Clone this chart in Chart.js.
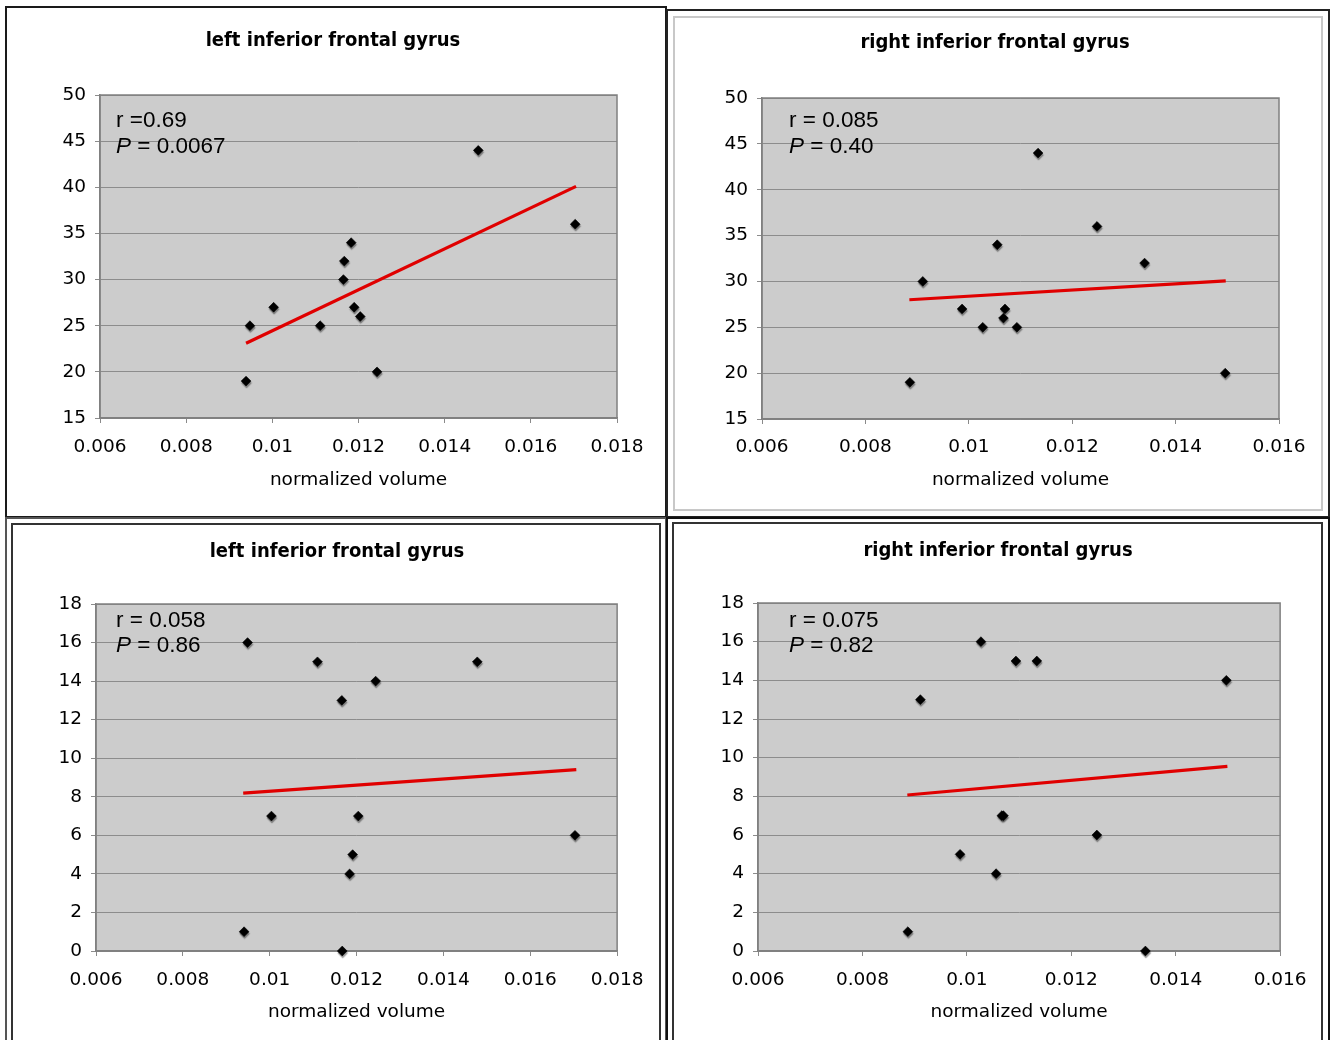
<!DOCTYPE html>
<html>
<head>
<meta charset="utf-8">
<script src="https://cdn.jsdelivr.net/npm/chart.js@4.4.0/dist/chart.umd.min.js"></script>
<style>
  html, body { margin: 0; padding: 0; background: #fff; }
  body { width: 1332px; height: 1040px; overflow: hidden; position: relative; }
  .box { position: absolute; box-sizing: border-box; }
  canvas { position: absolute; }
</style>
</head>
<body>
<div class="box" style="left:5px;top:6px;width:662px;height:512px;border:2px solid #1a1a1a"></div>
<div class="box" style="left:666px;top:9px;width:664px;height:509px;border:2px solid #222"></div>
<div class="box" style="left:673px;top:16px;width:650px;height:495px;border:2px solid #c8c8c8"></div>
<div class="box" style="left:5px;top:517px;width:662px;height:540px;border:2px solid #555"></div>
<div class="box" style="left:11px;top:523px;width:650px;height:530px;border:2px solid #333"></div>
<div class="box" style="left:666px;top:517px;width:664px;height:540px;border:2px solid #111"></div>
<div class="box" style="left:672px;top:522px;width:651px;height:530px;border:2px solid #333"></div>
<canvas id="c1"></canvas>
<canvas id="c2"></canvas>
<canvas id="c3"></canvas>
<canvas id="c4"></canvas>
<script>
// ---------------- DATA ----------------
const titleLeft = 'left inferior frontal gyrus';
const titleRight = 'right inferior frontal gyrus';
const xAxisTitle = 'normalized volume';

const xTicksLeft = ['0.006', '0.008', '0.01', '0.012', '0.014', '0.016', '0.018'];
const xTicksRight = ['0.006', '0.008', '0.01', '0.012', '0.014', '0.016'];
const yTicksTop = ['15', '20', '25', '30', '35', '40', '45', '50'];
const yTicksBottom = ['0', '2', '4', '6', '8', '10', '12', '14', '16', '18'];

// top-left: left IFG
const leftTopX = [0.01478, 0.01703, 0.01183, 0.01167, 0.01165, 0.01003, 0.00948, 0.01111, 0.01190, 0.01204, 0.01243, 0.00939];
const leftTopY = [44, 36, 34, 32, 30, 27, 25, 25, 27, 26, 20, 19];
const leftTopTrendX = [0.00939, 0.01705];
const leftTopTrendY = [23.1, 40.1];
const leftTopR = 'r =0.69';
const leftTopP = '0.0067';

// top-right: right IFG
const rightTopX = [0.01134, 0.01248, 0.01055, 0.01340, 0.00911, 0.00987, 0.01070, 0.01067, 0.01027, 0.01093, 0.00886, 0.01496];
const rightTopY = [44, 36, 34, 32, 30, 27, 27, 26, 25, 25, 19, 20];
const rightTopTrendX = [0.00885, 0.01497];
const rightTopTrendY = [28.0, 30.05];
const rightTopR = 'r = 0.085';
const rightTopP = '0.40';

// bottom-left: left IFG
const leftBotX = [0.00949, 0.01110, 0.01478, 0.01244, 0.01166, 0.01004, 0.01204, 0.01703, 0.01191, 0.01184, 0.00941, 0.01167];
const leftBotY = [16, 15, 15, 14, 13, 7, 7, 6, 5, 4, 1, 0];
const leftBotTrendX = [0.00939, 0.01706];
const leftBotTrendY = [8.19, 9.41];
const leftBotR = 'r = 0.058';
const leftBotP = '0.86';

// bottom-right: right IFG
const rightBotX = [0.01027, 0.01094, 0.01134, 0.01497, 0.00911, 0.01070, 0.01067, 0.01249, 0.00987, 0.01056, 0.00887, 0.01342];
const rightBotY = [16, 15, 15, 14, 13, 7, 7, 6, 5, 4, 1, 0];
const rightBotTrendX = [0.00886, 0.01499];
const rightBotTrendY = [8.07, 9.55];
const rightBotR = 'r = 0.075';
const rightBotP = '0.82';

// ---------------- LAYOUT / STYLE ----------------
const TICK_FONT = 'DejaVu Sans';
const TICK_SIZE = 18.5;
const TITLE_FONT = '"DejaVu Sans Condensed", "DejaVu Sans", sans-serif';
const TITLE_SIZE = 20;
const NOTE_FONT = '"Liberation Sans", Arial, sans-serif';
const NOTE_SIZE = 22.5;

const geoms = [
  { id: 'c1', canvas: [8, 9, 656, 506],   plot: [100, 95, 617, 418], titleC: [333, 41],  labelY: 447.5, axisTitleY: 480,  note: [16, 32, 58] },
  { id: 'c2', canvas: [676, 18, 644, 490], plot: [762, 98, 1279, 419], titleC: [995, 43], labelY: 447.5, axisTitleY: 480,  note: [27, 29, 55] },
  { id: 'c3', canvas: [14, 527, 643, 513], plot: [96, 604, 620, 951], titleC: [337, 552], labelY: 980.5, axisTitleY: 1012, note: [20, 23, 48] },
  { id: 'c4', canvas: [675, 526, 645, 514], plot: [758, 603, 1281, 951], titleC: [998, 551], labelY: 980.5, axisTitleY: 1012, note: [31, 24, 49] }
];

const panels = [
  { title: titleLeft,  xs: leftTopX,  ys: leftTopY,  tx: leftTopTrendX,  ty: leftTopTrendY,  r: leftTopR,  p: leftTopP,  xTicks: xTicksLeft,  yTicks: yTicksTop },
  { title: titleRight, xs: rightTopX, ys: rightTopY, tx: rightTopTrendX, ty: rightTopTrendY, r: rightTopR, p: rightTopP, xTicks: xTicksRight, yTicks: yTicksTop },
  { title: titleLeft,  xs: leftBotX,  ys: leftBotY,  tx: leftBotTrendX,  ty: leftBotTrendY,  r: leftBotR,  p: leftBotP,  xTicks: xTicksLeft,  yTicks: yTicksBottom },
  { title: titleRight, xs: rightBotX, ys: rightBotY, tx: rightBotTrendX, ty: rightBotTrendY, r: rightBotR, p: rightBotP, xTicks: xTicksRight, yTicks: yTicksBottom }
];

const plotBg = {
  id: 'plotBg',
  beforeDraw(chart) {
    const a = chart.chartArea, ctx = chart.ctx;
    ctx.save();
    ctx.fillStyle = '#cccccc';
    ctx.fillRect(a.left, a.top, a.right - a.left, a.bottom - a.top);
    ctx.restore();
  },
  beforeDatasetsDraw(chart) {
    const a = chart.chartArea, ctx = chart.ctx;
    ctx.save();
    ctx.strokeStyle = '#808080';
    ctx.lineWidth = 1.5;
    ctx.strokeRect(a.left, a.top, a.right - a.left, a.bottom - a.top);
    ctx.restore();
  },
  beforeDatasetDraw(chart, args) {
    if (args.index === 0) {
      const ctx = chart.ctx;
      ctx.shadowColor = 'rgba(0,0,0,0.4)';
      ctx.shadowOffsetX = 0.5;
      ctx.shadowOffsetY = 2;
      ctx.shadowBlur = 1.2;
    }
  },
  afterDatasetDraw(chart, args) {
    const ctx = chart.ctx;
    ctx.shadowColor = 'rgba(0,0,0,0)';
    ctx.shadowOffsetX = 0;
    ctx.shadowOffsetY = 0;
    ctx.shadowBlur = 0;
  },
  afterDraw(chart, args, opts) {
    const a = chart.chartArea, ctx = chart.ctx;
    const x0 = a.left + opts.dx;
    ctx.save();
    ctx.fillStyle = '#000';
    ctx.textBaseline = 'alphabetic';
    ctx.textAlign = 'left';
    ctx.font = NOTE_SIZE + 'px ' + NOTE_FONT;
    ctx.fillText(opts.r, x0, a.top + opts.y1);
    ctx.font = 'italic ' + NOTE_SIZE + 'px ' + NOTE_FONT;
    ctx.fillText('P', x0, a.top + opts.y2);
    const w = ctx.measureText('P').width;
    ctx.font = NOTE_SIZE + 'px ' + NOTE_FONT;
    ctx.fillText(' = ' + opts.p, x0 + w, a.top + opts.y2);
    ctx.restore();
  }
};

panels.forEach((pn, i) => {
  const g = geoms[i];
  const [cx, cy, cw, ch] = g.canvas;
  const [l, t, r, b] = g.plot;
  const R0 = cx + cw - r, L0 = l - cx, T0 = t - cy, B0 = cy + ch - b;
  const padL = 2 * (g.titleC[0] - cx) - cw + R0;
  const yW = L0 - padL;
  const tLH = TITLE_SIZE * 1.2;
  const tPadTop = g.titleC[1] - cy - tLH / 2;
  const tPadBot = T0 - tPadTop - tLH;
  const kLH = TICK_SIZE * 1.2;
  const xTickPad = g.labelY - b - 5 - kLH / 2;
  const axTitlePadBot = cy + ch - g.axisTitleY - kLH / 2;

  const cv = document.getElementById(g.id);
  cv.width = cw; cv.height = ch;
  cv.style.left = cx + 'px'; cv.style.top = cy + 'px';
  cv.style.width = cw + 'px'; cv.style.height = ch + 'px';

  const pts = pn.xs.map((x, k) => ({ x: x, y: pn.ys[k] }));
  const trend = pn.tx.map((x, k) => ({ x: x, y: pn.ty[k] }));
  const xVals = pn.xTicks.map(Number);
  const yVals = pn.yTicks.map(Number);
  const tickFont = { family: TICK_FONT, size: TICK_SIZE, lineHeight: 1.2 };

  new Chart(cv, {
    type: 'scatter',
    data: {
      datasets: [
        { data: pts, backgroundColor: '#000', borderColor: '#000', borderWidth: 0.6,
          pointStyle: 'rectRot', pointRadius: 4.9, pointHoverRadius: 4.9, clip: false },
        { type: 'line', data: trend, showLine: true, borderColor: '#e00000', borderWidth: 3.2,
          pointRadius: 0, fill: false, clip: false }
      ]
    },
    options: {
      responsive: false,
      animation: false,
      devicePixelRatio: 1,
      events: [],
      layout: { padding: { left: padL, right: R0, top: 0, bottom: 0 } },
      plugins: {
        legend: { display: false },
        tooltip: { enabled: false },
        title: {
          display: true, text: pn.title, color: '#000',
          font: { family: TITLE_FONT, size: TITLE_SIZE, weight: 'bold', lineHeight: 1.2 },
          padding: { top: tPadTop, bottom: tPadBot }
        },
        plotBg: { r: pn.r, p: pn.p, dx: g.note[0], y1: g.note[1], y2: g.note[2] }
      },
      scales: {
        x: {
          type: 'linear',
          min: xVals[0], max: xVals[xVals.length - 1],
          afterBuildTicks: s => { s.ticks = xVals.map(v => ({ value: v })); },
          afterFit: s => { s.height = B0; },
          ticks: { color: '#000', font: tickFont, padding: xTickPad, maxRotation: 0, autoSkip: false,
                   callback: (v, k) => pn.xTicks[k] },
          grid: { drawOnChartArea: false, drawTicks: true, tickLength: 5, color: '#8a8a8a' },
          border: { color: '#808080', width: 1.5 },
          title: { display: true, text: xAxisTitle, color: '#000', font: tickFont,
                   padding: { top: 0, bottom: axTitlePadBot } }
        },
        y: {
          type: 'linear',
          min: yVals[0], max: yVals[yVals.length - 1],
          afterBuildTicks: s => { s.ticks = yVals.map(v => ({ value: v })); },
          afterFit: s => { s.width = yW; },
          ticks: { color: '#000', font: tickFont, padding: 9, autoSkip: false,
                   callback: (v, k) => pn.yTicks[k] },
          grid: { color: '#8c8c8c', lineWidth: 1, tickLength: 5 },
          border: { color: '#808080', width: 1.5 }
        }
      }
    },
    plugins: [plotBg]
  });
});
</script>
</body>
</html>
